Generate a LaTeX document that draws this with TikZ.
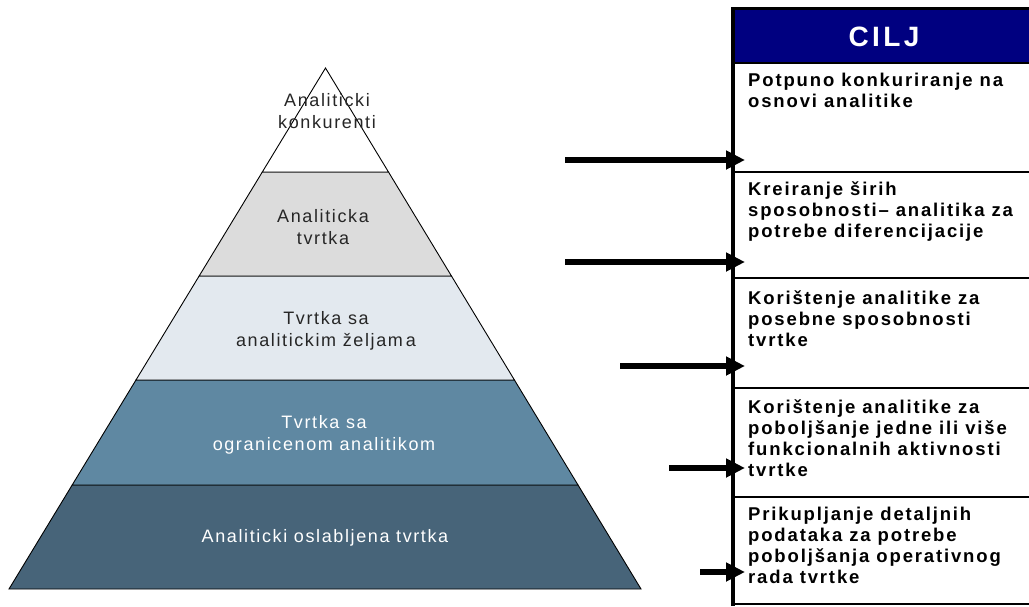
\documentclass[tikz,border=0pt]{standalone}
\usepackage{fontspec}
\setmainfont{Liberation Sans}
\newfontfamily\rowfont[LetterSpace=10]{Liberation Sans}
\newfontfamily\pyrfont[LetterSpace=9]{Liberation Sans}
\newfontfamily\headfont[LetterSpace=12]{Liberation Sans}
\usetikzlibrary{arrows.meta,calc}
\definecolor{lvlA}{HTML}{FFFFFF}
\definecolor{lvlB}{HTML}{DCDCDC}
\definecolor{lvlC}{HTML}{E3E9EF}
\definecolor{lvlD}{HTML}{5F88A2}
\definecolor{lvlE}{HTML}{476479}
\definecolor{navyhead}{HTML}{000080}
\tikzset{
  layer/.style={draw=black, line width=0.9pt},
  pyrtext/.style={align=center, inner sep=0pt, font=\pyrfont\fontsize{18}{21.5}\selectfont, text=black!85},
  pyrtextw/.style={pyrtext, text=white},
  rowtext/.style={anchor=north west, align=left, inner sep=0pt, font=\rowfont\bfseries\fontsize{18.5}{21}\selectfont, text=black},
  sep/.style={line width=1.6pt, draw=black},
  arr/.style={line width=6pt, -{Triangle[length=19pt,width=18pt]}},
}
\begin{document}
\begin{tikzpicture}[x=1pt,y=-1pt]
\useasboundingbox (0,0) rectangle (1029,606);
% pyramid
\coordinate (apex) at (325.5,68);
\coordinate (bl) at (9,589);
\coordinate (br) at (641,589);
\foreach \t/\n in {0.1996/1,0.3992/2,0.5988/3,0.8004/4}{
  \coordinate (l\n) at ($(apex)!\t!(bl)$);
  \coordinate (r\n) at ($(apex)!\t!(br)$);
}
\filldraw[layer, fill=lvlE] (l4) -- (r4) -- (br) -- (bl) -- cycle;
\filldraw[layer, fill=lvlD] (l3) -- (r3) -- (r4) -- (l4) -- cycle;
\filldraw[layer, fill=lvlC] (l2) -- (r2) -- (r3) -- (l3) -- cycle;
\filldraw[layer, fill=lvlB] (l1) -- (r1) -- (r2) -- (l2) -- cycle;
\filldraw[layer, fill=lvlA] (apex) -- (r1) -- (l1) -- cycle;
\node[pyrtext] (t1) at (327,111) {Analiticki\\konkurenti};
\node[pyrtext] (t2) at (323,227) {Analiticka\\tvrtka};
\node[pyrtext] (t3) at (326,331) {Tvrtka sa\\analitickim željam\,a};
\node[pyrtextw] (t4) at (324,435) {Tvrtka sa\\ogranicenom analitikom};
\node[pyrtextw] (t5) at (325,538) {Analiticki oslabljena tvrtka};
% panel
\fill[navyhead] (733,8) rectangle (1029,63);
\node[font=\headfont\bfseries\fontsize{28}{28}\selectfont, text=white] (head) at (884,37) {CILJ};
\draw[line width=3pt] (733,8) -- (1029,8);
\coordinate (p0) at (733,63);
\coordinate (p1) at (733,172);
\coordinate (p2) at (733,278);
\coordinate (p3) at (733,388);
\coordinate (p4) at (733,497);
\coordinate (p5) at (733,604);
\foreach \n in {0,1,2,3,4,5}{ \draw[sep] (p\n) -- ++(296,0); }
\draw[line width=4.5pt] (733,7) -- (733,606);
\node[rowtext] (c1) at (748,73) {Potpuno konkuriranje na\\osnovi analitike};
\node[rowtext] (c2) at (748,181) {Kreiranje širih\\sposobnosti– analitika za\\potrebe diferencijacije};
\node[rowtext] (c3) at (748,290) {Korištenje analitike za\\posebne sposobnosti\\tvrtke};
\node[rowtext] (c4) at (748,399) {Korištenje analitike za\\poboljšanje jedne ili više\\funkcionalnih aktivnosti\\tvrtke};
\node[rowtext] (c5) at (748,507) {Prikupljanje detaljnih\\podataka za potrebe\\poboljšanja operativnog\\rada tvrtke};
% arrows
\coordinate (s1) at (565,160);
\coordinate (s2) at (565,262);
\coordinate (s3) at (620,366);
\coordinate (s4) at (669,468);
\coordinate (s5) at (700,572);
\foreach \n in {1,...,5}{
  \coordinate (e\n) at ([xshift=12pt]p0 |- s\n);
  \draw[arr] (s\n) -- (e\n);
}
\end{tikzpicture}
\end{document}
